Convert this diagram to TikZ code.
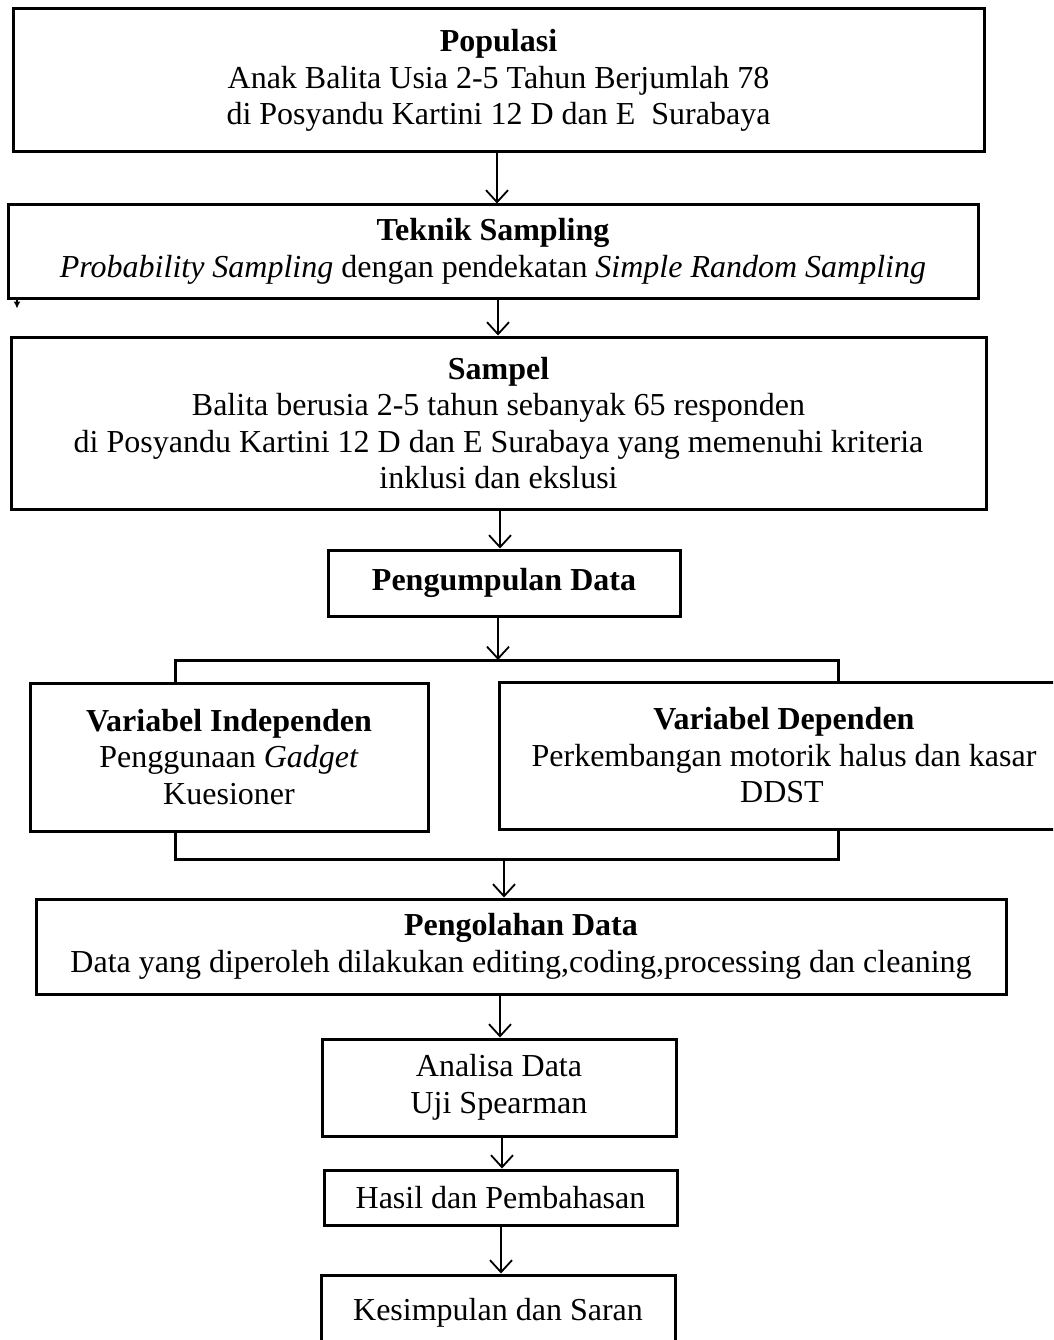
\documentclass[tikz,border=0pt]{standalone}
\usepackage{fontspec}
\setmainfont{Liberation Serif}
\usetikzlibrary{arrows.meta}
\begin{document}
\begin{tikzpicture}[x=1pt,y=-1pt,
  box/.style={draw, line width=3pt, inner sep=0pt, align=center,
    font=\fontsize{32}{36.5}\selectfont},
  flow/.style={line width=1.8pt, -{Straight Barb[length=12pt,width=22pt,line width=1.8pt]}},
  link/.style={line width=3pt}]
\useasboundingbox (0,0) rectangle (1053,1340);
\clip (0,0) rectangle (1053,1340);

% main boxes
\node[box, minimum width=971, minimum height=143] (pop) at (498.5,80.5)
  {\textbf{Populasi}\\Anak Balita Usia 2-5 Tahun Berjumlah 78\\di Posyandu Kartini 12 D dan E\ \ Surabaya};
\node[box, minimum width=970, minimum height=93] (tek) at (493,251.5)
  {\textbf{Teknik Sampling}\\\textit{Probability Sampling} dengan pendekatan \textit{Simple Random Sampling}};
\node[box, minimum width=975, minimum height=172] (samp) at (498.5,423)
  {\textbf{Sampel}\\Balita berusia 2-5 tahun sebanyak 65 responden\\di Posyandu Kartini 12 D dan E Surabaya yang memenuhi kriteria\\inklusi dan ekslusi};
\node[box, minimum width=352, minimum height=66] (pd) at (504,583)
  {\textbf{Pengumpulan Data}};
\node[box, minimum width=398, minimum height=148] (indep) at (229,757)
  {\textbf{Variabel Independen}\\Penggunaan \textit{Gadget}\\Kuesioner};
\node[box, minimum width=570, minimum height=147] (dep) at (784,755.5)
  {\textbf{Variabel Dependen}\\Perkembangan motorik halus dan kasar\\DDST\hspace*{4pt}};
\node[box, minimum width=970, minimum height=95] (olah) at (521,946.5)
  {\textbf{Pengolahan Data}\\Data yang diperoleh dilakukan editing,coding,processing dan cleaning};
\node[box, minimum width=354, minimum height=97] (ana) at (499,1087.5)
  {Analisa Data\\Uji Spearman};
\node[box, minimum width=353, minimum height=55] (hasil) at (500.5,1197.5)
  {Hasil dan Pembahasan};
\node[box, minimum width=354, minimum height=76] (kes) at (498,1313)
  {Kesimpulan dan Saran};

% guide coordinates for the connectors
\coordinate (c1) at (497,0);
\coordinate (c2) at (498,0);
\coordinate (c3) at (500,0);
\coordinate (c4) at (498,0);
\coordinate (c5) at (504,0);
\coordinate (c6) at (500,0);
\coordinate (c7) at (502,0);
\coordinate (c8) at (501,0);
\coordinate (bl) at (175,0);
\coordinate (br) at (838,0);
\coordinate (split) at (0,660);
\coordinate (join) at (0,859);
\coordinate (mk) at (17,0);

% vertical flow
\draw[flow] (pop.south -| c1) -- (tek.north -| c1);
\draw[flow] (tek.south -| c2) -- (samp.north -| c2);
\draw[flow] (samp.south -| c3) -- (pd.north -| c3);
\draw[flow] (pd.south -| c4) -- (c4 |- split);
\draw[flow] (c5 |- join) -- (olah.north -| c5);
\draw[flow] (olah.south -| c6) -- (ana.north -| c6);
\draw[flow] (ana.south -| c7) -- (hasil.north -| c7);
\draw[flow] (hasil.south -| c8) -- (kes.north -| c8);

% split to the two variable boxes and join again
\draw[link] (indep.north -| bl) -- (bl |- split) -- (br |- split) -- (dep.north -| br);
\draw[link] (indep.south -| bl) -- (bl |- join) -- (br |- join) -- (dep.south -| br);

% small mark under the sampling box
\draw[line width=1.2pt, -{Latex[length=7pt,width=7pt]}] (tek.south -| mk) -- ++(0,9);
\end{tikzpicture}
\end{document}
